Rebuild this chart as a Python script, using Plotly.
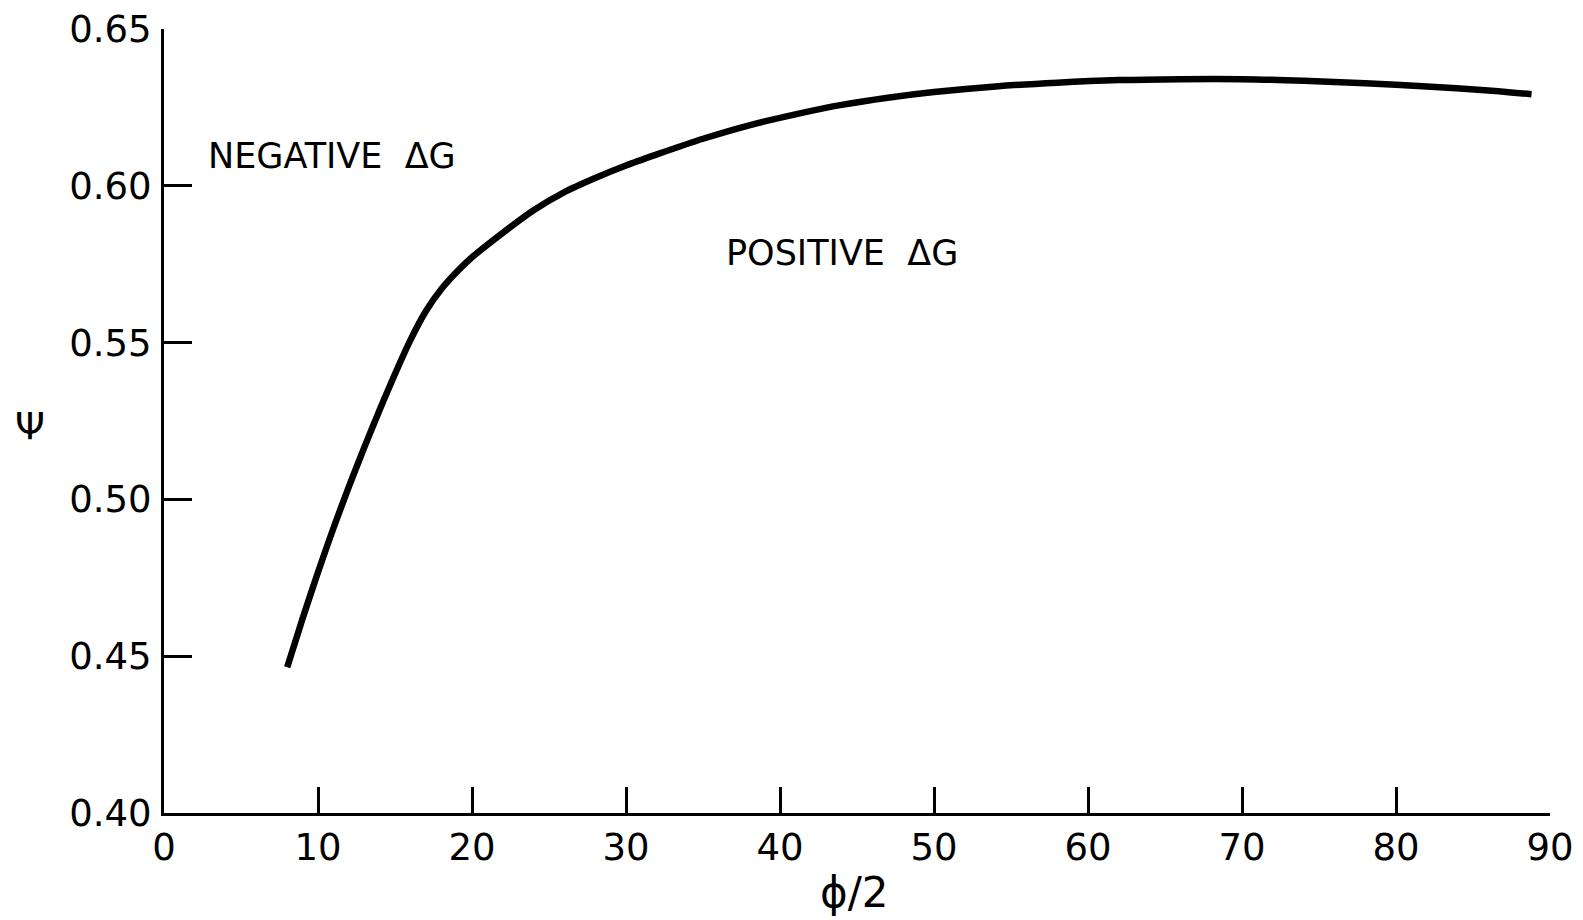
import plotly.graph_objects as go

# data
phi_half = [8, 9, 10, 11, 12, 13, 14, 15, 16, 17, 18, 19, 20, 22, 24, 26, 28, 30,
            32, 35, 38, 41, 44, 47, 50, 54, 58, 62, 66, 70, 74, 78, 82, 86, 88.8]
psi = [0.4465, 0.4620, 0.4768, 0.4908, 0.5040, 0.5165, 0.5285, 0.5400, 0.5508, 0.5600,
       0.5670, 0.5725, 0.5772, 0.5850, 0.5922, 0.5980, 0.6025, 0.6065, 0.6100, 0.6150,
       0.6193, 0.6228, 0.6258, 0.6281, 0.6299, 0.6317, 0.6329, 0.6337, 0.6340, 0.6340,
       0.6335, 0.6327, 0.6317, 0.6304, 0.6292]

x_ticks = [0, 10, 20, 30, 40, 50, 60, 70, 80, 90]
x_tick_labels = ["0", "10", "20", "30", "40", "50", "60", "70", "80", "90"]
y_ticks = [0.40, 0.45, 0.50, 0.55, 0.60, 0.65]
y_tick_labels = ["0.40", "0.45", "0.50", "0.55", "0.60", "0.65"]

region_labels = ["NEGATIVE  ΔG", "POSITIVE  ΔG"]
region_x = [10.9, 44.0]
region_y = [0.6095, 0.5785]

FONT = "DejaVu Sans"

fig = go.Figure()
fig.add_trace(go.Scatter(
    x=phi_half, y=psi, mode="lines",
    line=dict(color="black", width=6.5, shape="spline", smoothing=0.8),
    showlegend=False, hoverinfo="skip",
))

for t, xx, yy in zip(region_labels, region_x, region_y):
    fig.add_annotation(x=xx, y=yy, xref="x", yref="y", text=t, showarrow=False,
                       font=dict(family=FONT, size=35, color="black"),
                       xanchor="center", yanchor="middle")

fig.add_annotation(x=-0.097, y=0.493, xref="paper", yref="paper", text="Ψ",
                   showarrow=False, font=dict(family=FONT, size=38, color="black"),
                   xanchor="center", yanchor="middle")
fig.add_annotation(x=0.4985, y=-0.102, xref="paper", yref="paper", text="ϕ/2",
                   showarrow=False, font=dict(family=FONT, size=42, color="black"),
                   xanchor="center", yanchor="middle")

fig.update_xaxes(
    range=[0, 90], tickvals=x_ticks, ticktext=x_tick_labels,
    ticks="inside", ticklen=26, tickwidth=3, tickcolor="black",
    showline=True, linewidth=3, linecolor="black", mirror=False,
    showgrid=False, zeroline=False, automargin=False,
    tickfont=dict(family=FONT, size=37, color="black"),
    ticklabelstandoff=0,
)
fig.update_yaxes(
    range=[0.40, 0.65], tickvals=y_ticks, ticktext=y_tick_labels,
    ticks="inside", ticklen=28, tickwidth=3, tickcolor="black",
    showline=True, linewidth=3, linecolor="black", mirror=False,
    showgrid=False, zeroline=False, automargin=False,
    tickfont=dict(family=FONT, size=37, color="black"),
    ticklabelstandoff=2,
)

fig.update_layout(
    width=1583, height=920,
    margin=dict(l=164, r=33, t=29, b=107),
    paper_bgcolor="white", plot_bgcolor="white",
)

fig.write_html("out.html")
